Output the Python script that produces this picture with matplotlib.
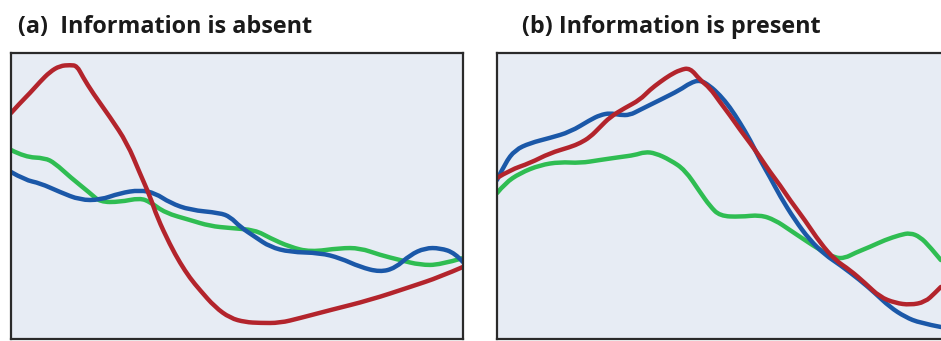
import matplotlib.pyplot as plt
from matplotlib.path import Path
from matplotlib.patches import PathPatch

# (a) Information is absent
a_red_x = [0, 2.0, 4.2, 6.4, 8.6, 10.8, 13.1, 14.6, 15.9, 18.1, 21.9, 25.7, 28.5, 30.8, 32.3,
           35.2, 37.4, 39.6, 41.8, 45.1, 48.5, 51.8, 55.1, 59.5, 63.9, 70.6, 79.4, 88.3, 94.9, 100]
a_red_y = [79.0, 82.5, 86.0, 89.9, 93.4, 95.5, 95.8, 95.5, 91.6, 86.0, 77.6, 68.5, 58.0, 49.7, 42.7,
           32.9, 26.6, 21.3, 17.1, 11.2, 7.3, 5.9, 5.6, 5.6, 7.3, 10.1, 13.6, 18.2, 21.7, 25.2]

a_green_x = [0, 3.1, 7.5, 9.7, 13.1, 17.5, 19.7, 24.1, 28.5, 30.8, 34.1, 39.6, 44.0, 48.5, 54.0,
             57.3, 61.7, 66.2, 72.8, 77.2, 81.6, 86.1, 90.5, 94.9, 100]
a_green_y = [66.1, 63.6, 63.3, 61.5, 56.6, 51.0, 47.9, 47.9, 49.3, 47.9, 44.1, 41.6, 39.5, 38.8, 38.1,
             35.3, 32.2, 30.4, 31.8, 31.8, 29.4, 27.6, 25.9, 25.9, 28.3]

a_blue_x = [0, 3.1, 6.4, 10.8, 15.3, 19.7, 24.1, 28.5, 31.9, 35.2, 39.6, 46.2, 48.5, 50.7, 54.0,
            57.3, 61.7, 68.4, 72.8, 77.2, 81.6, 85.0, 88.3, 91.6, 94.9, 98.2, 100]
a_blue_y = [58.4, 55.6, 54.5, 51.4, 48.6, 48.6, 51.0, 52.1, 51.0, 47.6, 45.1, 44.1, 42.7, 39.2, 35.7,
            32.2, 30.4, 30.1, 28.3, 25.2, 23.4, 24.8, 29.4, 31.8, 31.8, 30.1, 26.9]

# (b) Information is present
b_red_x = [0, 2.9, 7.3, 11.7, 16.2, 18.4, 20.6, 22.8, 25.0, 28.3, 31.6, 33.8, 36.1, 38.3, 40.5,
           42.7, 44.9, 47.1, 49.3, 51.5, 53.8, 56.0, 58.2, 60.4, 62.6, 64.8, 68.1, 71.5, 74.8,
           78.1, 81.4, 84.7, 88.1, 91.4, 94.7, 96.9, 98.2]
b_red_y = [56.3, 59.1, 61.5, 65.0, 67.1, 68.5, 70.6, 74.1, 77.6, 80.8, 83.6, 87.1, 89.9, 92.3, 94.1,
           94.8, 90.6, 87.8, 82.9, 78.3, 73.1, 68.5, 63.6, 58.4, 53.8, 48.6, 41.6, 33.6, 27.6,
           24.1, 19.6, 14.7, 12.6, 11.9, 12.9, 16.1, 18.2]

b_blue_x = [0, 1.8, 4.0, 7.3, 11.7, 16.2, 20.6, 22.8, 25.0, 27.2, 29.4, 31.6, 36.1, 40.5, 42.7,
            44.9, 47.1, 49.3, 51.5, 53.8, 56.0, 58.2, 60.4, 62.6, 65.9, 69.2, 72.6, 75.9, 80.3,
            83.6, 86.9, 90.3, 93.6, 98.2]
b_blue_y = [55.6, 61.5, 66.1, 68.5, 70.3, 72.4, 76.6, 78.3, 79.0, 78.3, 78.3, 80.1, 83.6, 87.1, 89.5,
            90.6, 88.5, 85.3, 81.1, 75.5, 69.6, 62.6, 56.6, 50.0, 41.6, 34.6, 29.4, 25.9, 20.6,
            16.1, 11.2, 7.7, 5.6, 4.2]

b_green_x = [0, 1.8, 5.1, 9.5, 13.9, 18.4, 22.8, 27.2, 30.5, 32.7, 35.0, 38.3, 41.6, 44.9, 47.1,
             49.3, 53.8, 58.2, 61.5, 64.8, 68.1, 71.5, 74.8, 77.0, 79.2, 82.5, 85.8, 89.2, 91.4,
             93.6, 95.8, 98.2]
b_green_y = [51.0, 54.5, 58.0, 60.8, 61.9, 61.5, 62.6, 63.6, 64.3, 65.4, 65.0, 62.6, 59.1, 51.4, 46.5,
             43.0, 42.7, 43.4, 41.6, 38.1, 34.6, 31.1, 28.3, 28.3, 30.1, 32.2, 34.6, 36.4, 37.1,
             35.7, 32.2, 27.6]

titles = ['(a)  Information is absent', '(b) Information is present']

RED = '#b3242c'
GREEN = '#2fbd52'
BLUE = '#1b58a8'
BG = '#e7ecf4'


def smooth_curve(ax, x, y, color):
    # quadratic Bezier through the midpoints, the samples act as control points
    pts = list(zip(x, y))
    verts = [pts[0]]
    codes = [Path.MOVETO]
    for i in range(1, len(pts) - 1):
        mid = ((pts[i][0] + pts[i + 1][0]) / 2, (pts[i][1] + pts[i + 1][1]) / 2)
        if i == len(pts) - 2:
            mid = pts[-1]
        verts += [pts[i], mid]
        codes += [Path.CURVE3, Path.CURVE3]
    patch = PathPatch(Path(verts, codes), fill=False, edgecolor=color, lw=3.2,
                      capstyle='round', joinstyle='round')
    ax.add_patch(patch)


fig = plt.figure(figsize=(9.41, 3.41), dpi=100)
W, H = 941, 341

panels = [
    (11, [(a_green_x, a_green_y, GREEN), (a_blue_x, a_blue_y, BLUE), (a_red_x, a_red_y, RED)]),
    (497, [(b_green_x, b_green_y, GREEN), (b_blue_x, b_blue_y, BLUE), (b_red_x, b_red_y, RED)]),
]

for (left, series), title, tx in zip(panels, titles, [18, 522]):
    ax = fig.add_axes([left / W, 2 / H, 452 / W, 286 / H])
    ax.set_facecolor(BG)
    for x, y, c in series:
        smooth_curve(ax, x, y, c)
    ax.set_xlim(0, 100)
    ax.set_ylim(0, 100)
    ax.set_xticks([])
    ax.set_yticks([])
    for s in ax.spines.values():
        s.set_color('#2a2a2a')
        s.set_linewidth(1.6)
    fig.text(tx / W, 1 - 33 / H, title, fontsize=16.8, fontweight='bold',
             family='Open Sans', color='#1a1a1a', va='baseline', ha='left')

fig.savefig('out.png', dpi=100)
